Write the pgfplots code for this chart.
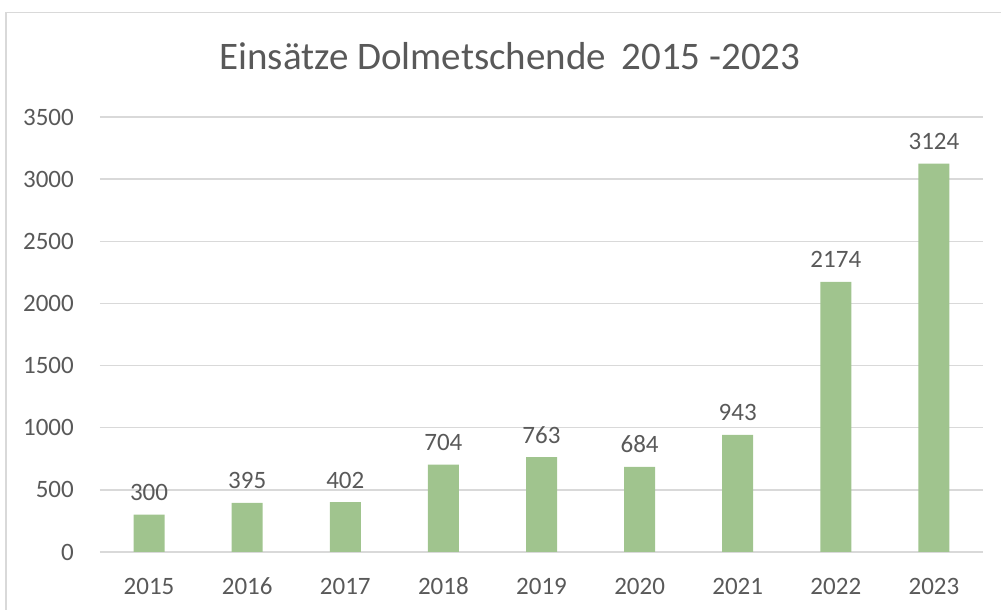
\documentclass[border=0pt]{standalone}
\usepackage{pgfplots}
\pgfplotsset{compat=1.18}
\usepackage{fontspec}
\setmainfont{Carlito}
\definecolor{txt}{HTML}{595959}
\definecolor{gridc}{HTML}{D9D9D9}
\definecolor{barc}{HTML}{A0C48E}
\begin{document}
\begin{tikzpicture}[x=1pt,y=1pt]
\useasboundingbox (0,0) rectangle (1001,610);
\draw[gridc, line width=1.5pt] (6,0) -- (6,597.5) -- (1001,597.5);
\node[txt, font=\fontsize{39}{42}\selectfont, anchor=base, inner sep=0pt] at (510,540) {Einsätze Dolmetschende\, 2015 -2023};
\begin{axis}[at={(100pt,58pt)}, anchor=south west, scale only axis,
  width=883pt, height=435pt,
  xmin=-0.5, xmax=8.5, ymin=0, ymax=3500,
  ytick={0,500,...,3500},
  xtick={0,1,2,3,4,5,6,7,8},
  xticklabels={2015,2016,2017,2018,2019,2020,2021,2022,2023},
  axis line style={draw=none},
  major tick length=0pt,
  ymajorgrids, grid style={gridc, line width=1.5pt},
  /pgf/number format/assume math mode=true,
  /pgf/number format/1000 sep={},
  tick label style={txt, font=\fontsize{25}{28}\selectfont},
  yticklabel style={anchor=east, inner sep=0pt, xshift=-26pt},
  xticklabel style={anchor=base, inner sep=0pt, yshift=-42pt},
  clip=false,
]
\addplot[ybar, bar width=31pt, fill=barc, draw=none,
  nodes near coords,
  every node near coord/.append style={txt, font=\fontsize{25}{28}\selectfont, anchor=base, inner sep=0pt, yshift=14pt}]
  coordinates {(0,300) (1,395) (2,402) (3,704) (4,763) (5,684) (6,943) (7,2174) (8,3124)};
\end{axis}
\end{tikzpicture}
\end{document}
